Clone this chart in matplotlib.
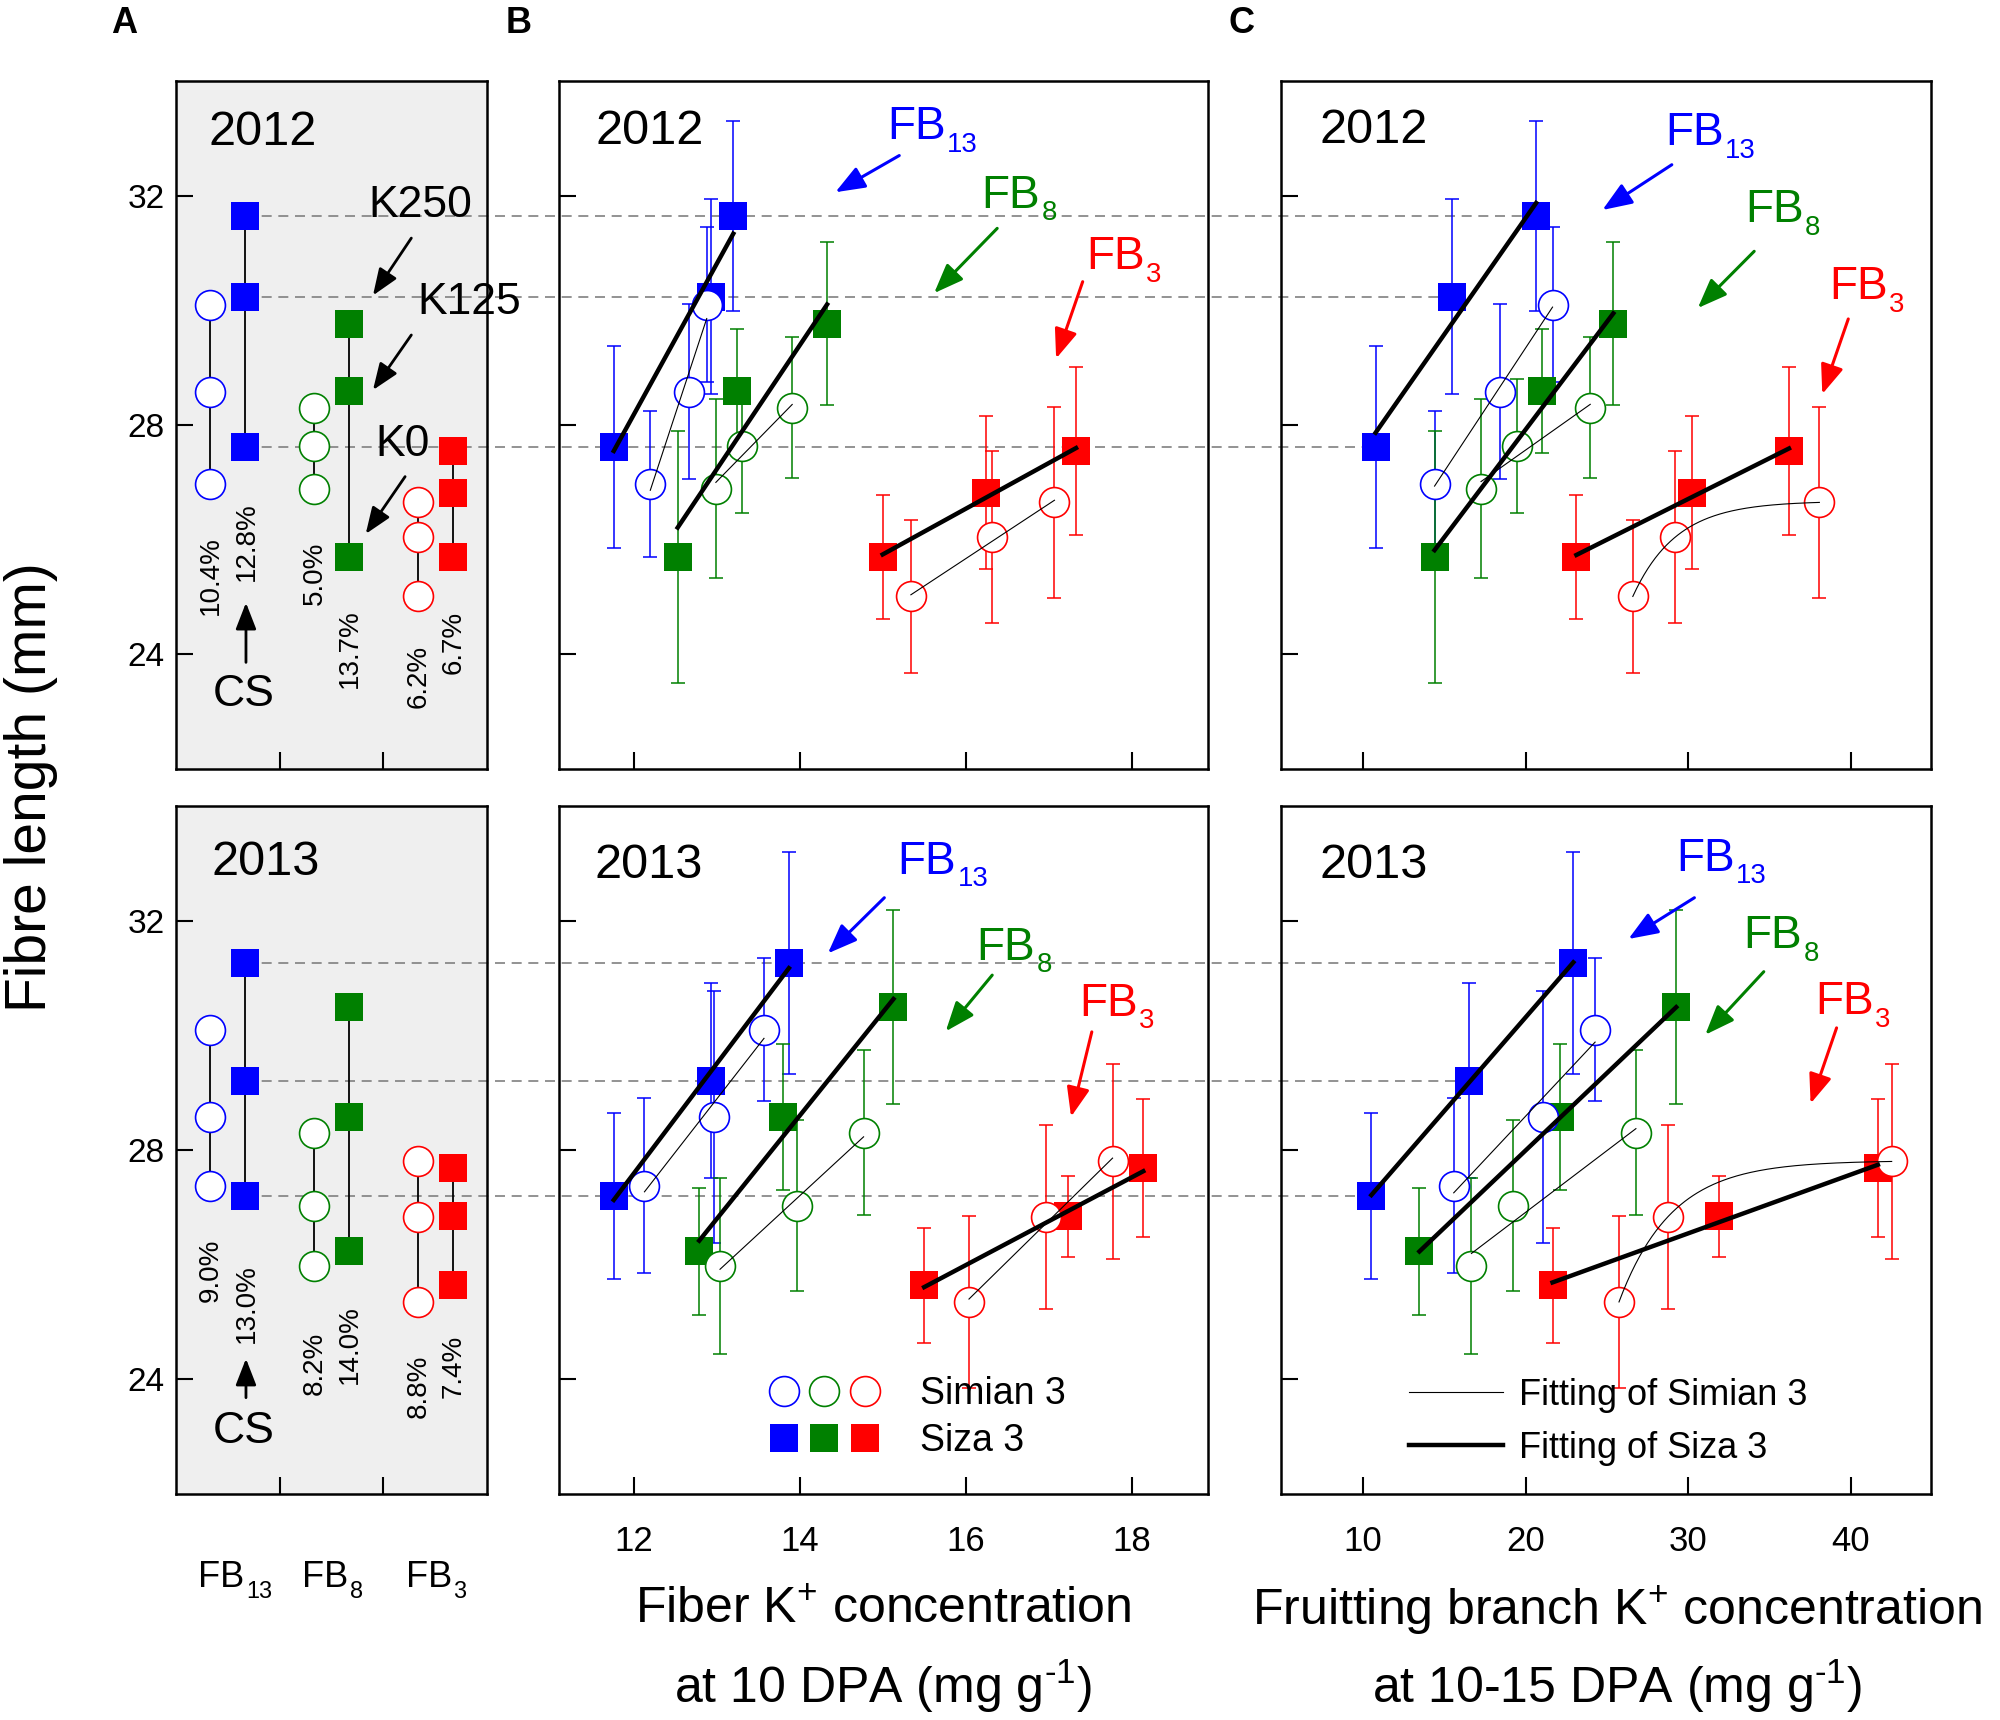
import numpy as np
import matplotlib
matplotlib.use('Agg')
import matplotlib.pyplot as plt
from matplotlib.lines import Line2D
from matplotlib.patches import Rectangle
from matplotlib.legend_handler import HandlerTuple

plt.rcParams['font.family'] = ['Liberation Sans', 'DejaVu Sans']
plt.rcParams['mathtext.fontset'] = 'custom'
plt.rcParams['mathtext.rm'] = 'Liberation Sans'
plt.rcParams['mathtext.it'] = 'Liberation Sans:italic'
plt.rcParams['mathtext.bf'] = 'Liberation Sans:bold'

# ---- data (rows: FB13, FB8, FB3; columns: K0, K125, K250) ----
groups = ['13', '8', '3']
colors = ['#0000ff', '#008000', '#ff0000']

simian_len_2012 = [[26.97, 28.58, 30.10], [26.89, 27.64, 28.30], [25.01, 26.04, 26.65]]
siza_len_2012 = [[27.62, 30.24, 31.65], [25.70, 28.59, 29.77], [25.70, 26.82, 27.55]]
simian_sd_2012 = [[1.28, 1.53, 1.35], [1.56, 1.17, 1.23], [1.33, 1.50, 1.66]]
siza_sd_2012 = [[1.76, 1.70, 1.66], [2.20, 1.08, 1.42], [1.08, 1.34, 1.47]]
simian_fiberk_2012 = [[12.20, 12.67, 12.88], [12.99, 13.31, 13.91], [15.34, 16.32, 17.07]]
siza_fiberk_2012 = [[11.76, 12.93, 13.20], [12.53, 13.24, 14.33], [15.00, 16.24, 17.33]]
simian_branchk_2012 = [[14.40, 18.41, 21.66], [17.26, 19.47, 23.98], [26.60, 29.19, 38.08]]
siza_branchk_2012 = [[10.77, 15.47, 20.65], [14.40, 21.00, 25.40], [23.13, 30.26, 36.21]]
simian_pct_2012 = ['10.4%', '5.0%', '6.2%']
siza_pct_2012 = ['12.8%', '13.7%', '6.7%']

simian_len_2013 = [[27.38, 28.57, 30.10], [25.98, 27.03, 28.30], [25.35, 26.83, 27.80]]
siza_len_2013 = [[27.20, 29.21, 31.26], [26.23, 28.57, 30.49], [25.64, 26.84, 27.69]]
simian_sd_2013 = [[1.53, 2.20, 1.24], [1.53, 1.49, 1.44], [1.50, 1.60, 1.70]]
siza_sd_2013 = [[1.45, 1.70, 1.94], [1.11, 1.27, 1.69], [1.00, 0.70, 1.20]]
simian_fiberk_2013 = [[12.13, 12.97, 13.57], [13.04, 13.97, 14.77], [16.04, 16.97, 17.77]]
siza_fiberk_2013 = [[11.76, 12.93, 13.87], [12.79, 13.80, 15.13], [15.50, 17.23, 18.14]]
simian_branchk_2013 = [[15.58, 21.08, 24.28], [16.67, 19.21, 26.79], [25.75, 28.74, 42.53]]
siza_branchk_2013 = [[10.51, 16.54, 22.94], [13.47, 22.14, 29.27], [21.66, 31.88, 41.68]]
simian_pct_2013 = ['9.0%', '8.2%', '8.8%']
siza_pct_2013 = ['13.0%', '14.0%', '7.4%']

years = {
    '2012': dict(sim=simian_len_2012, siz=siza_len_2012, sim_sd=simian_sd_2012, siz_sd=siza_sd_2012,
                 sim_fk=simian_fiberk_2012, siz_fk=siza_fiberk_2012,
                 sim_bk=simian_branchk_2012, siz_bk=siza_branchk_2012,
                 sim_pct=simian_pct_2012, siz_pct=siza_pct_2012),
    '2013': dict(sim=simian_len_2013, siz=siza_len_2013, sim_sd=simian_sd_2013, siz_sd=siza_sd_2013,
                 sim_fk=simian_fiberk_2013, siz_fk=siza_fiberk_2013,
                 sim_bk=simian_branchk_2013, siz_bk=siza_branchk_2013,
                 sim_pct=simian_pct_2013, siz_pct=siza_pct_2013),
}

MS_SQ = 20
MS_CI = 21.5


def saturating_fit(x, y):
    """exact 3-point fit of y = a - b*exp(-c*(t - x1))"""
    x1, x2, x3 = x
    y1, y2, y3 = y
    d1, d2 = x2 - x1, x3 - x2
    r = (y3 - y2) / (y2 - y1)
    f = lambda c: np.exp(-c * d1) * (1 - np.exp(-c * d2)) / (1 - np.exp(-c * d1)) - r
    lo, hi = 1e-6, 5.0
    for _ in range(200):
        mid = 0.5 * (lo + hi)
        if f(mid) > 0:
            lo = mid
        else:
            hi = mid
    c = 0.5 * (lo + hi)
    b = (y2 - y1) / (1 - np.exp(-c * d1))
    a = y1 + b
    return lambda t: a - b * np.exp(-c * (t - x1))


def fb_label(ax, x, y, sub, color, size=33, transform=None, ha='left', ratio=0.6):
    t = ax.text(x, y, 'FB', color=color, fontsize=size, ha=ha, va='center',
                transform=transform if transform is not None else ax.transData)
    ax.annotate(sub, xy=(1, 0.1), xycoords=t, xytext=(1, 0), textcoords='offset points',
                color=color, fontsize=size * ratio, ha='left', va='center')
    return t


def arrow(ax, start, end, color, lw=2.2, scale=20):
    ax.annotate('', xy=end, xytext=start,
                arrowprops=dict(arrowstyle='-|>,head_length=0.9,head_width=0.35', color=color,
                                lw=lw, shrinkA=0, shrinkB=0, mutation_scale=scale))


def style_axis(ax):
    for s in ax.spines.values():
        s.set_linewidth(1.8)
    ax.tick_params(direction='in', length=12, width=1.5, labelsize=24, top=False, right=False)
    ax.set_ylim(22, 34)
    ax.set_yticks([24, 28, 32])


def draw_dot_panel(ax, d):
    for g in range(3):
        for off, key, filled in [(0.33, 'sim', False), (0.67, 'siz', True)]:
            xpos = [g + off] * 3
            ax.plot(xpos, d[key][g], color='k', lw=1.3, zorder=2)
            if filled:
                ax.plot(xpos, d[key][g], 's', color=colors[g], ms=MS_SQ, mew=0, zorder=3)
            else:
                ax.plot(xpos, d[key][g], 'o', mfc='white', mec=colors[g], ms=MS_CI, mew=1.2, zorder=3)
    ax.set_xlim(0, 3)
    ax.set_xticks([1, 2])
    ax.tick_params(labelbottom=False)


def draw_scatter_panel(ax, d, xkey, curve_fb3=False):
    for g in range(3):
        c = colors[g]
        xs_siz = np.array(d['siz_' + xkey][g])
        xs_sim = np.array(d['sim_' + xkey][g])
        ax.errorbar(xs_siz, d['siz'][g], yerr=d['siz_sd'][g], fmt='none', ecolor=c,
                    elinewidth=1.1, capsize=5, capthick=1.1, zorder=2)
        ax.errorbar(xs_sim, d['sim'][g], yerr=d['sim_sd'][g], fmt='none', ecolor=c,
                    elinewidth=1.1, capsize=5, capthick=1.1, zorder=2)
        ax.plot(xs_siz, d['siz'][g], 's', color=c, ms=MS_SQ, mew=0, zorder=3)
        ax.plot(xs_sim, d['sim'][g], 'o', mfc='white', mec=c, ms=MS_CI, mew=1.2, zorder=3.5)
        # fitting lines
        t = np.linspace(xs_siz.min(), xs_siz.max(), 50)
        ax.plot(t, np.polyval(np.polyfit(xs_siz, d['siz'][g], 1), t), color='k', lw=3.2, zorder=5)
        t = np.linspace(xs_sim.min(), xs_sim.max(), 200)
        if curve_fb3 and g == 2:
            ax.plot(t, saturating_fit(xs_sim, d['sim'][g])(t), color='k', lw=0.8, zorder=5)
        else:
            ax.plot(t, np.polyval(np.polyfit(xs_sim, d['sim'][g], 1), t), color='k', lw=0.8, zorder=5)


fig = plt.figure(figsize=(20, 17.2), dpi=100)
rows = {'2012': 0.5529, '2013': 0.1314}
axes = {}
for yr, bottom in rows.items():
    axA = fig.add_axes([0.088, bottom, 0.1555, 0.4])
    axB = fig.add_axes([0.2795, bottom, 0.3245, 0.4])
    axC = fig.add_axes([0.6405, bottom, 0.325, 0.4])
    for ax in (axA, axB, axC):
        ax.set_facecolor('none')
        style_axis(ax)
    axes[yr] = (axA, axB, axC)
    d = years[yr]
    draw_dot_panel(axA, d)
    draw_scatter_panel(axB, d, 'fk')
    draw_scatter_panel(axC, d, 'bk', curve_fb3=True)
    axB.set_xlim(11.1, 18.92)
    axB.set_xticks([12, 14, 16, 18])
    axC.set_xlim(4.95, 44.95)
    axC.set_xticks([10, 20, 30, 40])
    axB.tick_params(labelleft=False, pad=22, labelsize=25)
    axC.tick_params(labelleft=False, pad=22, labelsize=25)
    axA.tick_params(axis='y', pad=8)
    if yr == '2012':
        axB.tick_params(labelbottom=False)
        axC.tick_params(labelbottom=False)

    # grey background of panel A, behind everything
    fig.add_artist(Rectangle((0.088, bottom), 0.1555, 0.4, transform=fig.transFigure,
                             facecolor='#efefef', edgecolor='none', zorder=-2))

    # dashed guide lines from Siza FB13 in A to the same points in C
    inv = fig.transFigure.inverted()
    for k in range(3):
        y = d['siz'][0][k]
        p0 = inv.transform(axA.transData.transform((0.67, y)))
        p1 = inv.transform(axC.transData.transform((d['siz_bk'][0][k], y)))
        fig.add_artist(Line2D([p0[0], p1[0]], [p0[1], p1[1]], transform=fig.transFigure,
                              color='#808080', lw=1.2, dashes=(6, 4), zorder=-1))

# ---- texts, panel A ----
pct_y = {'2012': ([25.38, 25.42, 23.62], [25.96, 24.10, 24.20]),
         '2013': ([25.91, 24.28, 23.88], [25.33, 24.60, 24.22])}
year_pos = {'2012': [(0.104, 0.925), (0.057, 0.926), (0.06, 0.928)],
            '2013': [(0.115, 0.918), (0.055, 0.913), (0.06, 0.913)]}
cs_pos = {'2012': (23.3, 23.86, 24.9), '2013': (23.09, 23.68, 24.36)}
for yr in rows:
    axA, axB, axC = axes[yr]
    d = years[yr]
    ysim, ysiz = pct_y[yr]
    for g in range(3):
        axA.text(g + 0.34, ysim[g], d['sim_pct'][g], rotation=90, fontsize=20, ha='center', va='center')
        axA.text(g + 0.68, ysiz[g], d['siz_pct'][g], rotation=90, fontsize=20, ha='center', va='center')
    for ax, (fx, fy) in zip((axA, axB, axC), year_pos[yr]):
        ax.text(fx, fy, yr, transform=ax.transAxes, fontsize=35, ha='left', va='center')
    ycs, y0, y1 = cs_pos[yr]
    axA.text(0.655, ycs, 'CS', fontsize=32, ha='center', va='center')
    arrow(axA, (0.675, y0), (0.675, y1), 'k', lw=2, scale=18)

# category labels under the bottom panel A
axA = axes['2013'][0]
for g, sub in enumerate(groups):
    fb_label(axA, g + 0.44, -0.122, sub, 'k', size=26, transform=axA.get_xaxis_transform(),
             ha='center', ratio=0.65)

axA = axes['2012'][0]
axA.text(2.36, 31.82, 'K250', fontsize=32, ha='center', va='center')
axA.text(2.83, 30.14, 'K125', fontsize=32, ha='center', va='center')
axA.text(2.19, 27.66, 'K0', fontsize=32, ha='center', va='center')
arrow(axA, (2.27, 31.26), (1.90, 30.26), 'k', lw=2, scale=18)
arrow(axA, (2.27, 29.57), (1.90, 28.61), 'k', lw=2, scale=18)
arrow(axA, (2.21, 27.10), (1.83, 26.10), 'k', lw=2, scale=18)

# ---- FB annotations in B and C ----
fb_notes = {
    ('2012', 1): [((15.05, 33.19), (15.20, 32.70), (14.43, 32.06)),
                  ((16.19, 32.00), (16.38, 31.43), (15.62, 30.30)),
                  ((17.45, 30.93), (17.41, 30.50), (17.09, 29.16))],
    ('2013', 1): [((15.18, 33.03), (15.02, 32.40), (14.34, 31.43)),
                  ((16.13, 31.53), (16.32, 31.05), (15.76, 30.07)),
                  ((17.37, 30.55), (17.52, 30.06), (17.27, 28.58))],
    ('2012', 2): [((28.6, 33.09), (29.0, 32.54), (24.73, 31.75)),
                  ((33.49, 31.75), (34.07, 31.03), (30.6, 30.04)),
                  ((38.66, 30.40), (39.86, 29.85), (38.26, 28.54))],
    ('2013', 2): [((29.27, 33.08), (30.39, 32.40), (26.33, 31.68)),
                  ((33.4, 31.73), (34.66, 31.11), (31.06, 30.01)),
                  ((37.81, 30.58), (39.14, 30.13), (37.54, 28.81))],
}
for (yr, idx), notes in fb_notes.items():
    ax = axes[yr][idx]
    for g, (tpos, a0, a1) in enumerate(notes):
        fb_label(ax, tpos[0], tpos[1], groups[g], colors[g], size=33)
        arrow(ax, a0, a1, colors[g])

# ---- legends ----
axB, axC = axes['2013'][1], axes['2013'][2]
h_sim = tuple(Line2D([], [], marker='o', ls='', mfc='white', mec=c, ms=MS_CI, mew=1.2) for c in colors)
h_siz = tuple(Line2D([], [], marker='s', ls='', color=c, ms=MS_SQ, mew=0) for c in colors)
axB.legend([h_sim, h_siz], ['Simian 3', 'Siza 3'], handler_map={tuple: HandlerTuple(ndivide=None, pad=0.33)},
           loc='center', bbox_to_anchor=(0.553, 0.111), frameon=False, fontsize=27,
           handlelength=2.9, handletextpad=1.1, labelspacing=0.3, borderpad=0, borderaxespad=0)
axC.legend([Line2D([], [], color='k', lw=0.8), Line2D([], [], color='k', lw=3.2)],
           ['Fitting of Simian 3', 'Fitting of Siza 3'],
           loc='center', bbox_to_anchor=(0.504, 0.105), frameon=False, fontsize=26,
           handlelength=2.6, handletextpad=0.45, labelspacing=0.5, borderpad=0, borderaxespad=0)

# ---- axis titles ----
axB.text(0.5, -0.1686, r'Fiber K$^{\mathregular{+}}$ concentration', transform=axB.transAxes,
         fontsize=36, ha='center', va='center')
axB.text(0.5, -0.279, r'at 10 DPA (mg g$^{\text{-1}}$)', transform=axB.transAxes,
         fontsize=36, ha='center', va='center')
axC.text(0.517, -0.1686, r'Fruitting branch K$^{\mathregular{+}}$ concentration', transform=axC.transAxes,
         fontsize=36, ha='center', va='center')
axC.text(0.517, -0.279, r'at 10-15 DPA (mg g$^{\text{-1}}$)', transform=axC.transAxes,
         fontsize=36, ha='center', va='center')
fig.text(0.0155, 0.5424, 'Fibre length (mm)', rotation=90, fontsize=41, ha='center', va='center')

for letter, fx in [('A', 0.062), ('B', 0.2595), ('C', 0.6205)]:
    fig.text(fx, 0.9866, letter, fontsize=26, fontweight='bold', ha='center', va='center')

fig.savefig('out.png', dpi=100)
